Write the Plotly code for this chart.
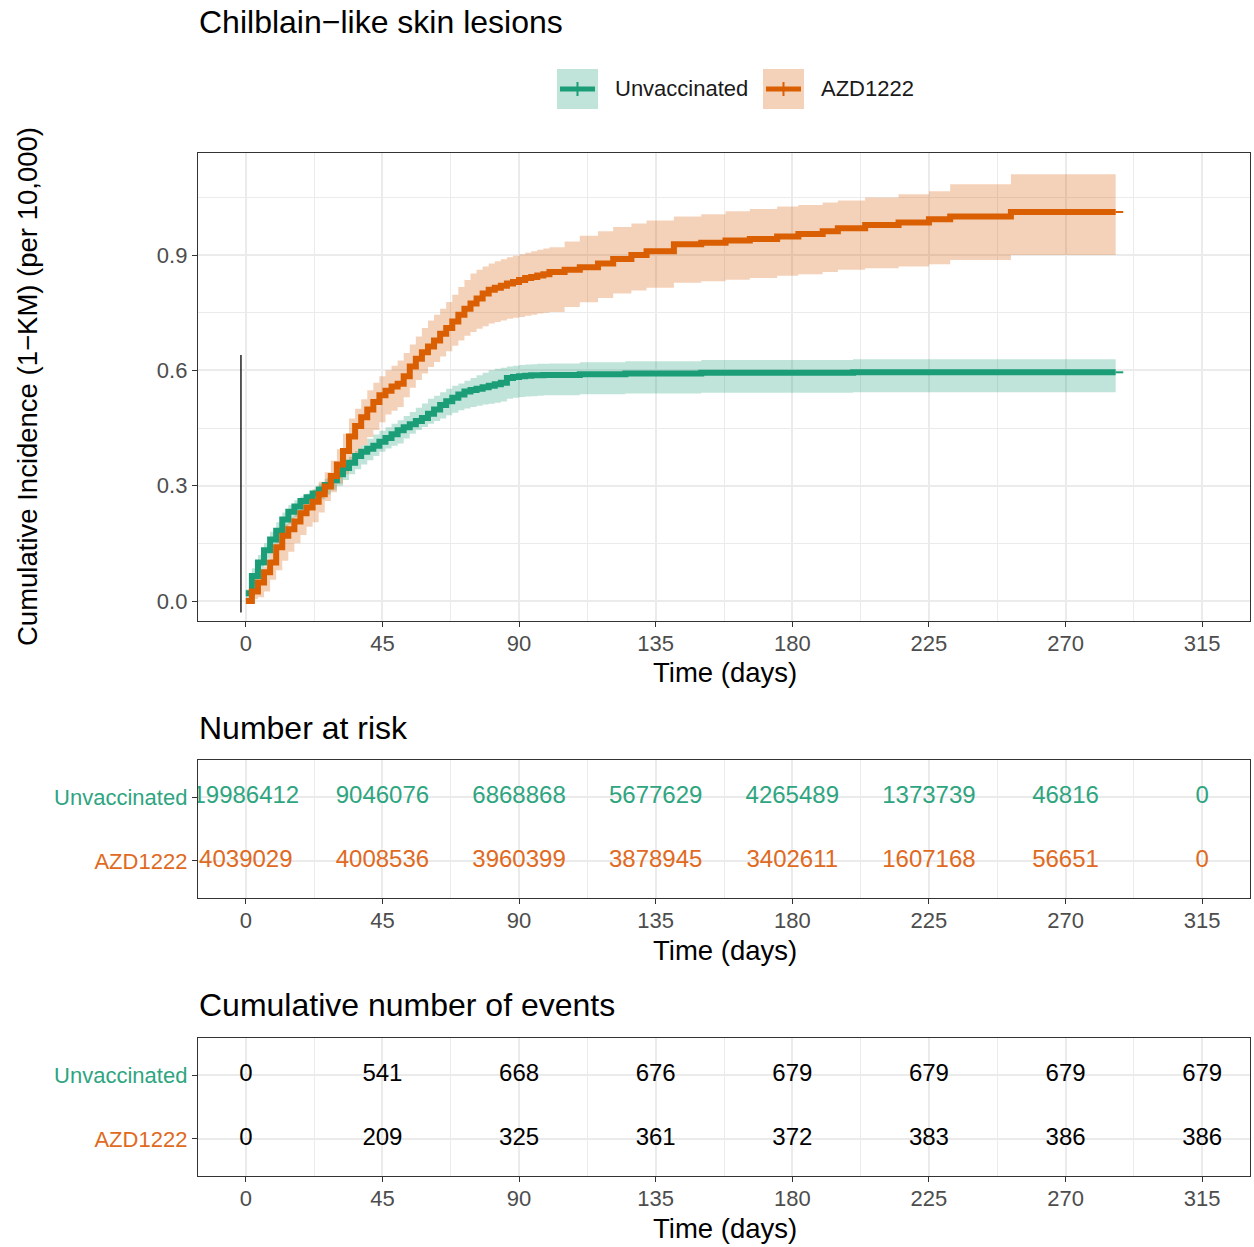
import plotly.graph_objects as go

# ---------------- data ----------------
unvac_t = [0, 2, 4, 6, 8, 10, 12, 14, 16, 18, 20, 22, 24, 26, 28, 30, 32, 34, 36, 38, 40,
           42, 44, 46, 48, 50, 52, 54, 56, 58, 60, 62, 64, 66, 68, 70, 72, 74, 76, 78, 80,
           82, 84, 86, 88, 90, 92, 94, 96, 98, 100, 110, 125, 150, 200, 250, 286.5]
unvac_est = [0.02, 0.065, 0.10, 0.132, 0.16, 0.183, 0.212, 0.232, 0.246, 0.26, 0.27, 0.28,
             0.29, 0.302, 0.314, 0.33, 0.346, 0.36, 0.377, 0.388, 0.396, 0.404, 0.414, 0.424,
             0.434, 0.444, 0.452, 0.46, 0.468, 0.476, 0.487, 0.498, 0.51, 0.52, 0.529, 0.537,
             0.545, 0.549, 0.552, 0.556, 0.56, 0.564, 0.568, 0.58, 0.583, 0.585, 0.586, 0.587,
             0.587, 0.588, 0.588, 0.59, 0.592, 0.594, 0.595, 0.595, 0.595]
unvac_lo = [0.0, 0.045, 0.08, 0.11, 0.13, 0.15, 0.175, 0.2, 0.218, 0.232, 0.245, 0.255, 0.265,
            0.277, 0.288, 0.30, 0.315, 0.33, 0.343, 0.355, 0.366, 0.377, 0.388, 0.397, 0.404,
            0.41, 0.423, 0.435, 0.445, 0.453, 0.461, 0.468, 0.475, 0.483, 0.49, 0.496, 0.501,
            0.505, 0.508, 0.511, 0.513, 0.516, 0.519, 0.526, 0.529, 0.531, 0.532, 0.533, 0.534,
            0.535, 0.535, 0.538, 0.54, 0.542, 0.543, 0.543, 0.543]
unvac_hi = [0.03, 0.085, 0.12, 0.15, 0.18, 0.205, 0.23, 0.25, 0.262, 0.272, 0.28, 0.29, 0.305,
            0.318, 0.33, 0.344, 0.36, 0.375, 0.39, 0.405, 0.422, 0.433, 0.443, 0.452, 0.461,
            0.47, 0.481, 0.492, 0.503, 0.514, 0.526, 0.534, 0.543, 0.552, 0.56, 0.566, 0.573,
            0.58, 0.587, 0.594, 0.60, 0.604, 0.607, 0.61, 0.612, 0.614, 0.615, 0.616, 0.617,
            0.617, 0.618, 0.621, 0.624, 0.627, 0.629, 0.629, 0.629]
unvac_end_t = 289

azd_t = [0, 2, 4, 6, 8, 10, 12, 14, 16, 18, 20, 22, 24, 26, 28, 30, 32, 34, 36, 38, 40,
         42, 44, 46, 48, 50, 52, 54, 56, 58, 60, 62, 64, 66, 68, 70, 72, 74, 76, 78, 80,
         82, 84, 86, 88, 90, 92, 94, 96, 98, 100, 105, 110, 116, 121, 127, 132, 141, 150,
         158, 166, 175, 182, 190, 195, 204, 215, 225, 232, 252, 286.5]
azd_est = [0.0, 0.025, 0.048, 0.075, 0.10, 0.14, 0.17, 0.187, 0.207, 0.228, 0.243, 0.258,
           0.278, 0.298, 0.325, 0.355, 0.39, 0.428, 0.455, 0.478, 0.498, 0.518, 0.535, 0.547,
           0.558, 0.565, 0.585, 0.61, 0.63, 0.647, 0.662, 0.678, 0.695, 0.71, 0.727, 0.745,
           0.76, 0.774, 0.787, 0.80, 0.81, 0.815, 0.82, 0.826, 0.83, 0.835, 0.84, 0.843, 0.847,
           0.85, 0.856, 0.862, 0.868, 0.878, 0.89, 0.90, 0.91, 0.928, 0.932, 0.938, 0.942,
           0.948, 0.955, 0.962, 0.97, 0.978, 0.985, 0.993, 1.0, 1.012, 1.012]
azd_lo = [0.0, 0.005, 0.01, 0.025, 0.055, 0.08, 0.105, 0.128, 0.15, 0.172, 0.193, 0.205,
          0.23, 0.26, 0.283, 0.305, 0.33, 0.36, 0.385, 0.405, 0.427, 0.445, 0.465, 0.485,
          0.495, 0.505, 0.53, 0.555, 0.575, 0.592, 0.609, 0.622, 0.636, 0.65, 0.664, 0.678,
          0.69, 0.70, 0.708, 0.715, 0.722, 0.726, 0.73, 0.734, 0.737, 0.739, 0.742, 0.745,
          0.748, 0.75, 0.752, 0.765, 0.777, 0.788, 0.80, 0.808, 0.815, 0.828, 0.832, 0.836,
          0.84, 0.846, 0.85, 0.856, 0.862, 0.866, 0.87, 0.876, 0.887, 0.90, 0.90]
azd_hi = [0.005, 0.035, 0.06, 0.09, 0.13, 0.17, 0.20, 0.217, 0.237, 0.258, 0.275, 0.29,
          0.31, 0.335, 0.365, 0.395, 0.435, 0.475, 0.50, 0.525, 0.548, 0.568, 0.585, 0.60,
          0.612, 0.626, 0.645, 0.667, 0.688, 0.71, 0.73, 0.745, 0.76, 0.778, 0.797, 0.817,
          0.835, 0.852, 0.862, 0.87, 0.878, 0.884, 0.889, 0.894, 0.898, 0.902, 0.906, 0.91,
          0.914, 0.917, 0.92, 0.935, 0.95, 0.962, 0.973, 0.982, 0.99, 1.0, 1.006, 1.014,
          1.02, 1.026, 1.03, 1.037, 1.042, 1.05, 1.058, 1.066, 1.084, 1.11, 1.11]
azd_end_t = 289

# stray vertical segment seen near time 0
seg_x = [-1.6, -1.6]
seg_y = [-0.03, 0.64]

table_times = [0, 45, 90, 135, 180, 225, 270, 315]
groups = ["Unvaccinated", "AZD1222"]
risk_unvac = [19986412, 9046076, 6868868, 5677629, 4265489, 1373739, 46816, 0]
risk_azd = [4039029, 4008536, 3960399, 3878945, 3402611, 1607168, 56651, 0]
events_unvac = [0, 541, 668, 676, 679, 679, 679, 679]
events_azd = [0, 209, 325, 361, 372, 383, 386, 386]

x_ticks = [0, 45, 90, 135, 180, 225, 270, 315]
y_ticks = [0.0, 0.3, 0.6, 0.9]
y_ticklabels = ["0.0", "0.3", "0.6", "0.9"]

# ---------------- style ----------------
W, H = 1254, 1247
GREEN = "#1B9E77"
ORANGE = "#D95F02"
GREEN_TXT = "#2EA57F"
ORANGE_TXT = "#E06A22"
GREEN_FILL = "rgba(27,158,119,0.28)"
ORANGE_FILL = "rgba(217,95,2,0.28)"
FONT = "Liberation Sans, Arial, sans-serif"
GRID = "#EBEBEB"
BORDER = "#333333"
TICKC = "#4D4D4D"


def px(x):
    return x / W


def py(y):
    return 1 - y / H


XDOM = [px(198), px(1250)]
XRANGE = [-15.75, 330.75]

fig = go.Figure()

# CI ribbons
for t, lo, hi, fillc in [(unvac_t, unvac_lo, unvac_hi, GREEN_FILL),
                         (azd_t, azd_lo, azd_hi, ORANGE_FILL)]:
    fig.add_trace(go.Scatter(x=t, y=lo, mode="lines", line=dict(width=0, shape="hv"),
                             showlegend=False, hoverinfo="skip", xaxis="x", yaxis="y"))
    fig.add_trace(go.Scatter(x=t, y=hi, mode="lines", line=dict(width=0, shape="hv"),
                             fill="tonexty", fillcolor=fillc, showlegend=False,
                             hoverinfo="skip", xaxis="x", yaxis="y"))

# step curves
for t, est, tend, col, name in [(unvac_t, unvac_est, unvac_end_t, GREEN, groups[0]),
                                 (azd_t, azd_est, azd_end_t, ORANGE, groups[1])]:
    fig.add_trace(go.Scatter(x=t, y=est, mode="lines", line=dict(color=col, width=6, shape="hv"),
                             name=name, showlegend=False, xaxis="x", yaxis="y"))
    fig.add_trace(go.Scatter(x=[t[-1], tend], y=[est[-1], est[-1]], mode="lines",
                             line=dict(color=col, width=2), showlegend=False,
                             xaxis="x", yaxis="y"))

fig.add_trace(go.Scatter(x=seg_x, y=seg_y, mode="lines", line=dict(color="black", width=1.3),
                         showlegend=False, xaxis="x", yaxis="y"))

# risk table
for vals, yv, col in [(risk_unvac, 2, GREEN_TXT), (risk_azd, 1, ORANGE_TXT)]:
    fig.add_trace(go.Scatter(x=table_times, y=[yv] * len(vals), mode="text",
                             text=[str(v) for v in vals],
                             textfont=dict(family=FONT, size=24, color=col),
                             showlegend=False, xaxis="x2", yaxis="y2"))
# events table
for vals, yv in [(events_unvac, 2), (events_azd, 1)]:
    fig.add_trace(go.Scatter(x=table_times, y=[yv] * len(vals), mode="text",
                             text=[str(v) for v in vals],
                             textfont=dict(family=FONT, size=24, color="black"),
                             showlegend=False, xaxis="x3", yaxis="y3"))

xaxis_common = dict(
    range=XRANGE, domain=XDOM, tickmode="array", tickvals=x_ticks,
    ticktext=[str(v) for v in x_ticks], showgrid=True, gridcolor=GRID, gridwidth=1.6,
    minor=dict(tickmode="array", tickvals=[22.5, 67.5, 112.5, 157.5, 202.5, 247.5, 292.5],
               showgrid=True, gridcolor=GRID, gridwidth=1.2, ticks=""),
    zeroline=False, showline=True, mirror=True, linecolor=BORDER, linewidth=1.4,
    ticks="outside", ticklen=5, tickwidth=1.4, tickcolor=BORDER, ticklabelstandoff=-3,
    tickfont=dict(family=FONT, size=22, color=TICKC),
)

ylab = ['<span style="color:%s">%s</span>' % (GREEN_TXT, groups[0]),
        '<span style="color:%s">%s</span>' % (ORANGE_TXT, groups[1])]

table_y = dict(
    range=[0.42, 2.58], tickmode="array", tickvals=[2, 1], ticktext=ylab,
    showgrid=True, gridcolor=GRID, gridwidth=1.6, zeroline=False,
    showline=True, mirror=True, linecolor=BORDER, linewidth=1.4,
    ticks="outside", ticklen=5, tickwidth=1.4, tickcolor=BORDER,
    tickfont=dict(family=FONT, size=22),
)

fig.update_layout(
    width=W, height=H, margin=dict(l=0, r=0, t=0, b=0),
    paper_bgcolor="white", plot_bgcolor="white", showlegend=False,
    font=dict(family=FONT, color="black"),
    xaxis=dict(xaxis_common, anchor="y"),
    yaxis=dict(range=[-0.052, 1.1655], domain=[py(621), py(153)], anchor="x",
               tickmode="array", tickvals=y_ticks, ticktext=y_ticklabels,
               showgrid=True, gridcolor=GRID, gridwidth=1.6,
               minor=dict(tickmode="array", tickvals=[0.15, 0.45, 0.75, 1.05],
                          showgrid=True, gridcolor=GRID, gridwidth=1.2, ticks=""),
               zeroline=False, showline=True, mirror=True, linecolor=BORDER, linewidth=1.4,
               ticks="outside", ticklen=5, tickwidth=1.4, tickcolor=BORDER,
               tickfont=dict(family=FONT, size=22, color=TICKC)),
    xaxis2=dict(xaxis_common, anchor="y2"),
    yaxis2=dict(table_y, domain=[py(898), py(760)], anchor="x2"),
    xaxis3=dict(xaxis_common, anchor="y3"),
    yaxis3=dict(table_y, domain=[py(1176), py(1038)], anchor="x3"),
)

ann = []
# titles
for text, yy in [("Chilblain\u2212like skin lesions", 22), ("Number at risk", 728),
                 ("Cumulative number of events", 1005)]:
    ann.append(dict(text=text, x=px(197), y=py(yy), xref="paper", yref="paper",
                    xanchor="left", yanchor="middle", showarrow=False,
                    font=dict(family=FONT, size=32, color="black")))
for yy in [672, 950, 1228]:
    ann.append(dict(text="Time (days)", x=px(725), y=py(yy), xref="paper", yref="paper",
                    xanchor="center", yanchor="middle", showarrow=False,
                    font=dict(family=FONT, size=27.5, color="black")))
ann.append(dict(text="Cumulative Incidence (1\u2212KM) (per 10,000)", x=px(28), y=py(387),
                xref="paper", yref="paper", xanchor="center", yanchor="middle",
                textangle=-90, showarrow=False, font=dict(family=FONT, size=27.5, color="black")))

# manual legend
shapes = []
for (x0, label, col, fillc) in [(557, groups[0], GREEN, GREEN_FILL),
                                 (763, groups[1], ORANGE, ORANGE_FILL)]:
    shapes.append(dict(type="rect", xref="paper", yref="paper", x0=px(x0), x1=px(x0 + 41),
                       y0=py(109), y1=py(69), fillcolor=fillc, line=dict(width=0)))
    shapes.append(dict(type="line", xref="paper", yref="paper", x0=px(x0 + 3), x1=px(x0 + 38),
                       y0=py(89), y1=py(89), line=dict(color=col, width=5)))
    shapes.append(dict(type="line", xref="paper", yref="paper", x0=px(x0 + 20.5),
                       x1=px(x0 + 20.5), y0=py(82), y1=py(96), line=dict(color=col, width=2)))
    ann.append(dict(text=label, x=px(x0 + 56), y=py(89), xref="paper", yref="paper",
                    xanchor="left", yanchor="middle", showarrow=False,
                    font=dict(family=FONT, size=22, color="#1A1A1A")))

fig.update_layout(annotations=ann, shapes=shapes)

fig.write_html("out.html")
